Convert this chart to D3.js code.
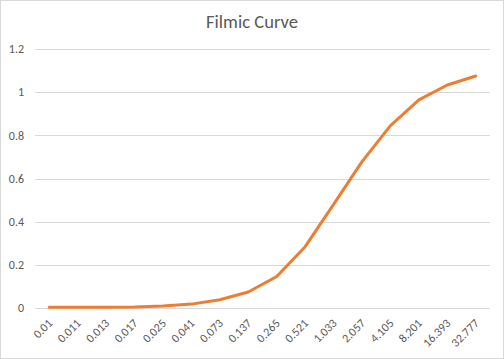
<!DOCTYPE html>
<html><head><meta charset="utf-8">
<script src="https://cdn.jsdelivr.net/npm/d3@7"></script>
<style>body{margin:0;background:#fff}svg{display:block}</style>
</head><body>
<script>
const categories = ["0.01","0.011","0.013","0.017","0.025","0.041","0.073","0.137","0.265","0.521","1.033","2.057","4.105","8.201","16.393","32.777"];
const values = [0.004,0.004,0.004,0.005,0.009,0.018,0.038,0.074,0.146,0.284,0.48,0.678,0.845,0.964,1.033,1.075];
const yTicks = [0,0.2,0.4,0.6,0.8,1,1.2];
const title = "Filmic Curve";

const W=504,H=359;
const svg=d3.select("body").append("svg").attr("width",W).attr("height",H);
svg.append("rect").attr("x",0.5).attr("y",0.5).attr("width",W-1).attr("height",H-1).attr("fill","#fff").attr("stroke","#d9d9d9");

const x=d3.scaleBand().domain(categories).range([35,490]);
const y=d3.scaleLinear().domain([0,1.2]).range([308,49]);
const font="Carlito, 'Open Sans', 'Liberation Sans', sans-serif";

svg.append("text").attr("x",252).attr("y",28).attr("text-anchor","middle")
  .attr("font-family",font).attr("font-size",18.6).attr("fill","#595959").text(title);

const gy=svg.append("g");
gy.selectAll("line").data(yTicks).join("line")
  .attr("x1",35).attr("x2",490).attr("y1",d=>Math.round(y(d))+0.5).attr("y2",d=>Math.round(y(d))+0.5)
  .attr("stroke","#d9d9d9").attr("stroke-width",1);
gy.selectAll("text").data(yTicks).join("text")
  .attr("x",24).attr("y",d=>y(d)).attr("dy","0.35em").attr("text-anchor","end")
  .attr("font-family",font).attr("font-size",12).attr("fill","#595959").text(d=>d);

const gx=svg.append("g");
gx.selectAll("text").data(categories).join("text")
  .attr("transform",d=>`translate(${x(d)+x.bandwidth()/2+1},${321}) rotate(-45)`)
  .attr("text-anchor","end").attr("dy","0.35em")
  .attr("font-family",font).attr("font-size",12).attr("fill","#595959").text(d=>d);

const line=d3.line().x((d,i)=>x(categories[i])+x.bandwidth()/2).y(d=>y(d));
svg.append("path").datum(values).attr("d",line).attr("fill","none")
  .attr("stroke","#ED7D31").attr("stroke-width",3).attr("stroke-linejoin","round").attr("stroke-linecap","round");
</script>
</body></html>
